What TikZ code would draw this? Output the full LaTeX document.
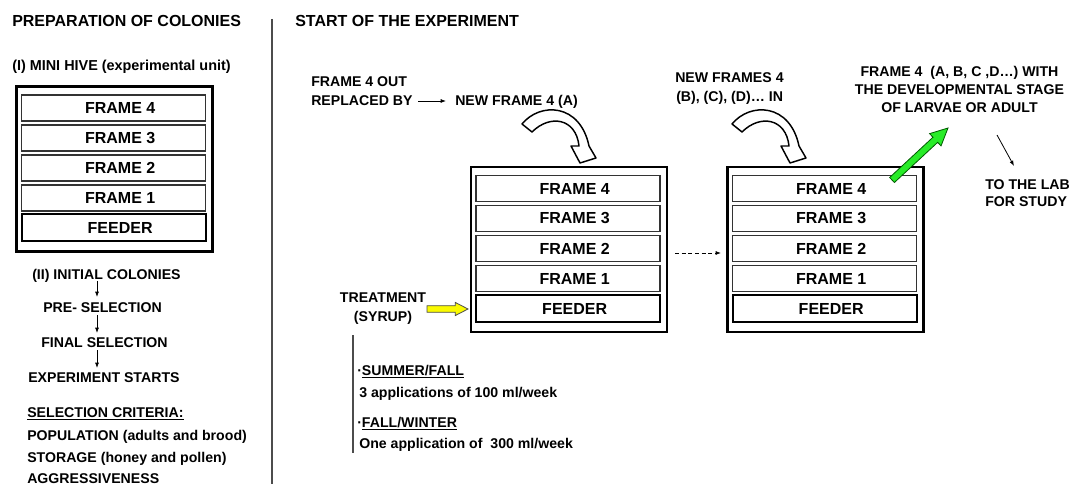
\documentclass[tikz,border=0pt]{standalone}
\usepackage{fontspec}
\setmainfont{Liberation Sans}
\usetikzlibrary{arrows.meta,calc}
\newcommand\hive[3]{%
  \node[hivebox] (#1) at (#2,#3) {};
  \node[hframe] (#1f4) at ({#2-1},{#3-61}) {\hspace*{10pt}FRAME 4};
  \node[hframe] (#1f3) at ({#2-1},{#3-31}) {\hspace*{10pt}FRAME 3};
  \node[hframe] (#1f2) at ({#2-1},{#3-1}) {\hspace*{10pt}FRAME 2};
  \node[hframe] (#1f1) at ({#2-1},{#3+29}) {\hspace*{10pt}FRAME 1};
  \node[hframe, feeder] (#1fd) at ({#2-1},{#3+59}) {\hspace*{10pt}FEEDER};
}
% #1 style, #2 from, #3 to, #4 shaft half width, #5 head half width, #6 head length
\newcommand\blockarrow[6]{%
  \coordinate (ba-h) at ($(#3)!#6!(#2)$);
  \filldraw[#1] ($(#2)!#4!90:(#3)$) -- ($(ba-h)!#4!90:(#3)$) -- ($(ba-h)!#5!90:(#3)$)
    -- (#3) -- ($(ba-h)!#5!-90:(#3)$) -- ($(ba-h)!#4!-90:(#3)$) -- ($(#2)!#4!-90:(#3)$) -- cycle;
}
\begin{document}
\begin{tikzpicture}[x=0.75pt,y=-0.75pt,
  hframe/.style={draw=black!80, line width=1pt, minimum width=138pt, minimum height=19.5pt,
    inner sep=0pt, font=\fontsize{12}{14}\bfseries\selectfont},
  feeder/.style={draw=black, line width=1.5pt, minimum height=20.25pt},
  hivebox/.style={draw=black, line width=1.7pt, minimum width=147pt, minimum height=123.75pt, inner sep=0pt},
  txt/.style={font=\fontsize{10.6}{14}\bfseries\selectfont, inner sep=0pt},
  headtxt/.style={font=\fontsize{12}{14}\bfseries\selectfont, inner sep=0pt},
  thinarrow/.style={line width=0.6pt, -{Latex[length=4pt,width=3pt]}},
  curvearrow/.pic={
    \filldraw[fill=white, draw=black, line width=1.1pt, line join=round]
      (-58,-39) .. controls (-40,-61) and (0,-60) .. (9,-17) -- (16,-5) -- (0,0)
      -- (-9,-17) -- (-1,-17) .. controls (-4,-45) and (-30,-49) .. (-48,-31) -- cycle;
  }]
\useasboundingbox (0,0) rectangle (1069,484);

% dividers
\draw[gray!60!black, line width=1.3pt] (272,19) coordinate (dv1) -- (272,484) coordinate (dv2);

% ---------- left column
\node[headtxt, anchor=base west] (hprep) at (12,27) {PREPARATION OF COLONIES};
\node[txt, font=\fontsize{10.8}{14}\bfseries\selectfont, anchor=base west] (hmini) at (12,71) {(I) MINI HIVE (experimental unit)};
\hive{L}{114.5}{169}

\node[txt, anchor=base west] (init) at (32,280) {(II) INITIAL COLONIES};
\node[txt, anchor=base west] (pre) at (43,312) {PRE- SELECTION};
\node[txt, anchor=base west] (fin) at (41,347) {FINAL SELECTION};
\node[txt, anchor=base west] (exps) at (28,382) {EXPERIMENT STARTS};
\coordinate (la1) at (97,281); \coordinate (la2) at (97,297);
\coordinate (lb1) at (97,315); \coordinate (lb2) at (97,333);
\coordinate (lc1) at (97,350); \coordinate (lc2) at (97,368);
\draw[thinarrow] (la1) -- (la2);
\draw[thinarrow] (lb1) -- (lb2);
\draw[thinarrow] (lc1) -- (lc2);
\node[txt, anchor=base west] (crit) at (27,417) {\underline{SELECTION CRITERIA:}};
\node[txt, anchor=base west] (pop) at (27,440) {POPULATION (adults and brood)};
\node[txt, anchor=base west] (sto) at (27,462) {STORAGE (honey and pollen)};
\node[txt, anchor=base west] (agg) at (27,483) {AGGRESSIVENESS};

% ---------- right part
\node[headtxt, anchor=base west] (hstart) at (295,27) {START OF THE EXPERIMENT};
\node[txt, anchor=base west] (out1) at (311,87) {FRAME 4 OUT};
\node[txt, anchor=base west] (out2) at (311,106) {REPLACED BY};
\node[txt, anchor=base west] (newA) at (455,106) {NEW FRAME 4 (A)};
\coordinate (ra1) at (418,101); \coordinate (ra2) at (446,101);
\draw[thinarrow] (ra1) -- (ra2);

\node[txt, anchor=base west] (newB1) at (675,83) {NEW FRAMES 4};
\node[txt, anchor=base west] (newB2) at (676,102) {(B), (C), (D)… IN};

\node[txt, anchor=base] (dev1) at (959.5,77) {FRAME 4\ \ (A, B, C ,D…) WITH};
\node[txt, anchor=base] (dev2) at (959.5,95) {THE DEVELOPMENTAL STAGE};
\node[txt, anchor=base] (dev3) at (959.5,113) {OF LARVAE OR ADULT};
\node[txt, anchor=base west] (lab1) at (985,190) {TO THE LAB};
\node[txt, anchor=base west] (lab2) at (985,207) {FOR STUDY};
\coordinate (ta1) at (997,135); \coordinate (ta2) at (1014,166);
\draw[thinarrow] (ta1) -- (ta2);

\hive{M}{569}{249.5}
\hive{R}{825.5}{249.5}

\pic (cvA) at (580,163) {curvearrow};
\pic (cvB) at (790,163) {curvearrow};

\coordinate (da1) at (675,253); \coordinate (da2) at (721,253);
\draw[line width=0.6pt, dash pattern=on 3pt off 2pt, -{Latex[length=4pt,width=3pt]}] (da1) -- (da2);

% green arrow
\coordinate (gs) at (892,180); \coordinate (ge) at (948,128);
\blockarrow{fill={rgb,255:red,40;green,235;blue,40}, draw=green!35!black, line width=0.6pt, line join=miter}{gs}{ge}{2.6pt}{6.3pt}{13pt}

% treatment
\node[txt, anchor=base] (tr1) at (383,302.5) {TREATMENT};
\node[txt, anchor=base] (tr2) at (383,321.5) {(SYRUP)};
\coordinate (ys) at (427,309); \coordinate (ye) at (468,309);
\blockarrow{fill={rgb,255:red,250;green,250;blue,0}, draw=black!70, line width=0.6pt}{ys}{ye}{2.5pt}{4.9pt}{9.5pt}

\draw[gray!60!black, line width=1.1pt] (353,335) coordinate (tv1) -- (353,453) coordinate (tv2);
\node[txt, anchor=base west] (s1) at (357,375) {·\underline{SUMMER/FALL}};
\node[txt, anchor=base west] (s2) at (359,397) {3 applications of 100 ml/week};
\node[txt, anchor=base west] (w1) at (357,427) {·\underline{FALL/WINTER}};
\node[txt, anchor=base west] (w2) at (359,448) {One application of\ \ 300 ml/week};
\end{tikzpicture}
\end{document}
